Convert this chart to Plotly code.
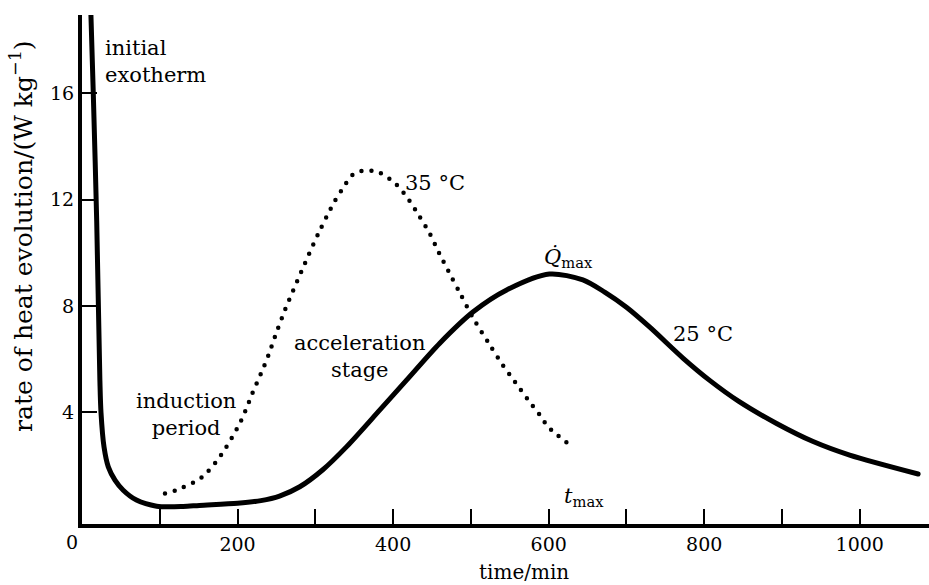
import plotly.graph_objects as go

# ---- data ----
time_25 = [11, 14.5, 18.9, 23, 24.4, 28.3, 33.8, 42.4, 53, 70, 96, 130, 151, 200, 230, 254, 280, 310,
           340, 383, 417, 460, 503, 546, 601, 644, 672, 700, 730, 773, 807, 844, 893, 940, 987, 1075]
rate_25 = [19.4, 16.0, 11.2, 5.2, 4.0, 2.7, 1.95, 1.45, 1.07, 0.7, 0.47, 0.46, 0.5, 0.58, 0.68, 0.85, 1.2, 1.85,
           2.7, 4.09, 5.2, 6.6, 7.78, 8.6, 9.2, 8.98, 8.52, 7.95, 7.2, 6.03, 5.2, 4.42, 3.58, 2.9, 2.39, 1.68]

time_35 = [106.7, 119.5, 153.8, 178, 204, 219, 229.7, 239.5, 248, 261, 282, 304, 324, 334, 348,
           360, 373, 384, 403.6, 420, 433.6, 447, 459, 473, 486, 503, 524.4, 539.5, 556.6, 573.7,
           590.9, 599, 628.5]
rate_35 = [0.95, 1.05, 1.55, 2.36, 3.65, 4.71, 5.43, 6.13, 6.84, 7.85, 9.29, 10.73, 11.89, 12.36, 12.93,
           13.08, 13.08, 12.99, 12.58, 12.0, 11.38, 10.73, 10.0, 9.2, 8.48, 7.54, 6.53, 5.84, 5.15, 4.46,
           3.81, 3.46, 2.74]

x_tickvals = [100, 200, 300, 400, 500, 600, 700, 800, 900, 1000]
x_ticktext = ["", "200", "", "400", "", "600", "", "800", "", "1000"]
y_tickvals = [4, 8, 12, 16]
y_ticktext = ["4", "8", "12", "16"]

FONT = "DejaVu Serif"

fig = go.Figure()
fig.add_trace(go.Scatter(x=time_25, y=rate_25, mode="lines",
                         line=dict(color="black", width=5, shape="spline", smoothing=0.8),
                         hoverinfo="skip", showlegend=False))
fig.add_trace(go.Scatter(x=time_35, y=rate_35, mode="lines",
                         line=dict(color="black", width=4.5, shape="spline", smoothing=0.8, dash="0px,10px"),
                         hoverinfo="skip", showlegend=False))

ann = dict(showarrow=False, yanchor="middle", font=dict(family=FONT, size=21, color="black"))
fig.add_annotation(x=27, y=17.2, text="initial<br>exotherm", xanchor="left", align="left", **ann)
fig.add_annotation(x=133.7, y=3.9, text="induction<br>period", xanchor="center", align="center", **ann)
fig.add_annotation(x=357, y=6.08, text="acceleration<br>stage", xanchor="center", align="center", **ann)
fig.add_annotation(x=454, y=12.62, text="35 °C", xanchor="center", **ann)
fig.add_annotation(x=798.8, y=6.94, text="25 °C", xanchor="center", **ann)
fig.add_annotation(x=626, y=9.8, text="<i>Q̇</i><sub>max</sub>", xanchor="center", **ann)
fig.add_annotation(x=645, y=0.8, text="<i>t</i><sub>max</sub>", xanchor="center", **ann)
# axis titles and the origin label
fig.add_annotation(xref="paper", yref="paper", x=0.522, y=-0.094, text="time/min",
                   xanchor="center", yanchor="middle",
                   showarrow=False, font=dict(family=FONT, size=20, color="black"))
fig.add_annotation(xref="paper", yref="paper", x=-0.0708, y=0.566, textangle=-90,
                   xanchor="center", yanchor="middle",
                   text="rate of heat evolution/(W kg<sup>−1</sup>)",
                   showarrow=False, font=dict(family=FONT, size=25, color="black"))
fig.add_annotation(xref="paper", yref="paper", x=-0.0118, y=-0.035, text="0",
                   xanchor="center", yanchor="middle",
                   showarrow=False, font=dict(family=FONT, size=19, color="black"))

fig.update_layout(
    width=929, height=585,
    margin=dict(l=82, r=0, t=15, b=61),
    paper_bgcolor="white", plot_bgcolor="white",
    font=dict(family=FONT, size=19, color="black"),
    xaxis=dict(range=[0, 1089], tickvals=x_tickvals, ticktext=x_ticktext,
               ticks="inside", ticklen=15, tickwidth=2, tickcolor="black",
               showline=True, linewidth=4, linecolor="black",
               showgrid=False, zeroline=False, tickfont=dict(family=FONT, size=19)),
    yaxis=dict(range=[-0.2, 18.94], tickvals=y_tickvals, ticktext=y_ticktext,
               ticks="inside", ticklen=15, tickwidth=2, tickcolor="black",
               showline=True, linewidth=4, linecolor="black",
               showgrid=False, zeroline=False, tickfont=dict(family=FONT, size=19)),
)

post = ("document.body.style.margin='0';document.body.style.padding='0';"
        "var gd=document.getElementById('{plot_id}');"
        "function rc(){gd.querySelectorAll('.scatterlayer .trace path.js-line').forEach("
        "function(p){p.style.strokeLinecap='round';});}"
        "rc(); gd.on('plotly_afterplot', rc);")
fig.write_html("out.html", post_script=post, config={"displayModeBar": False})
